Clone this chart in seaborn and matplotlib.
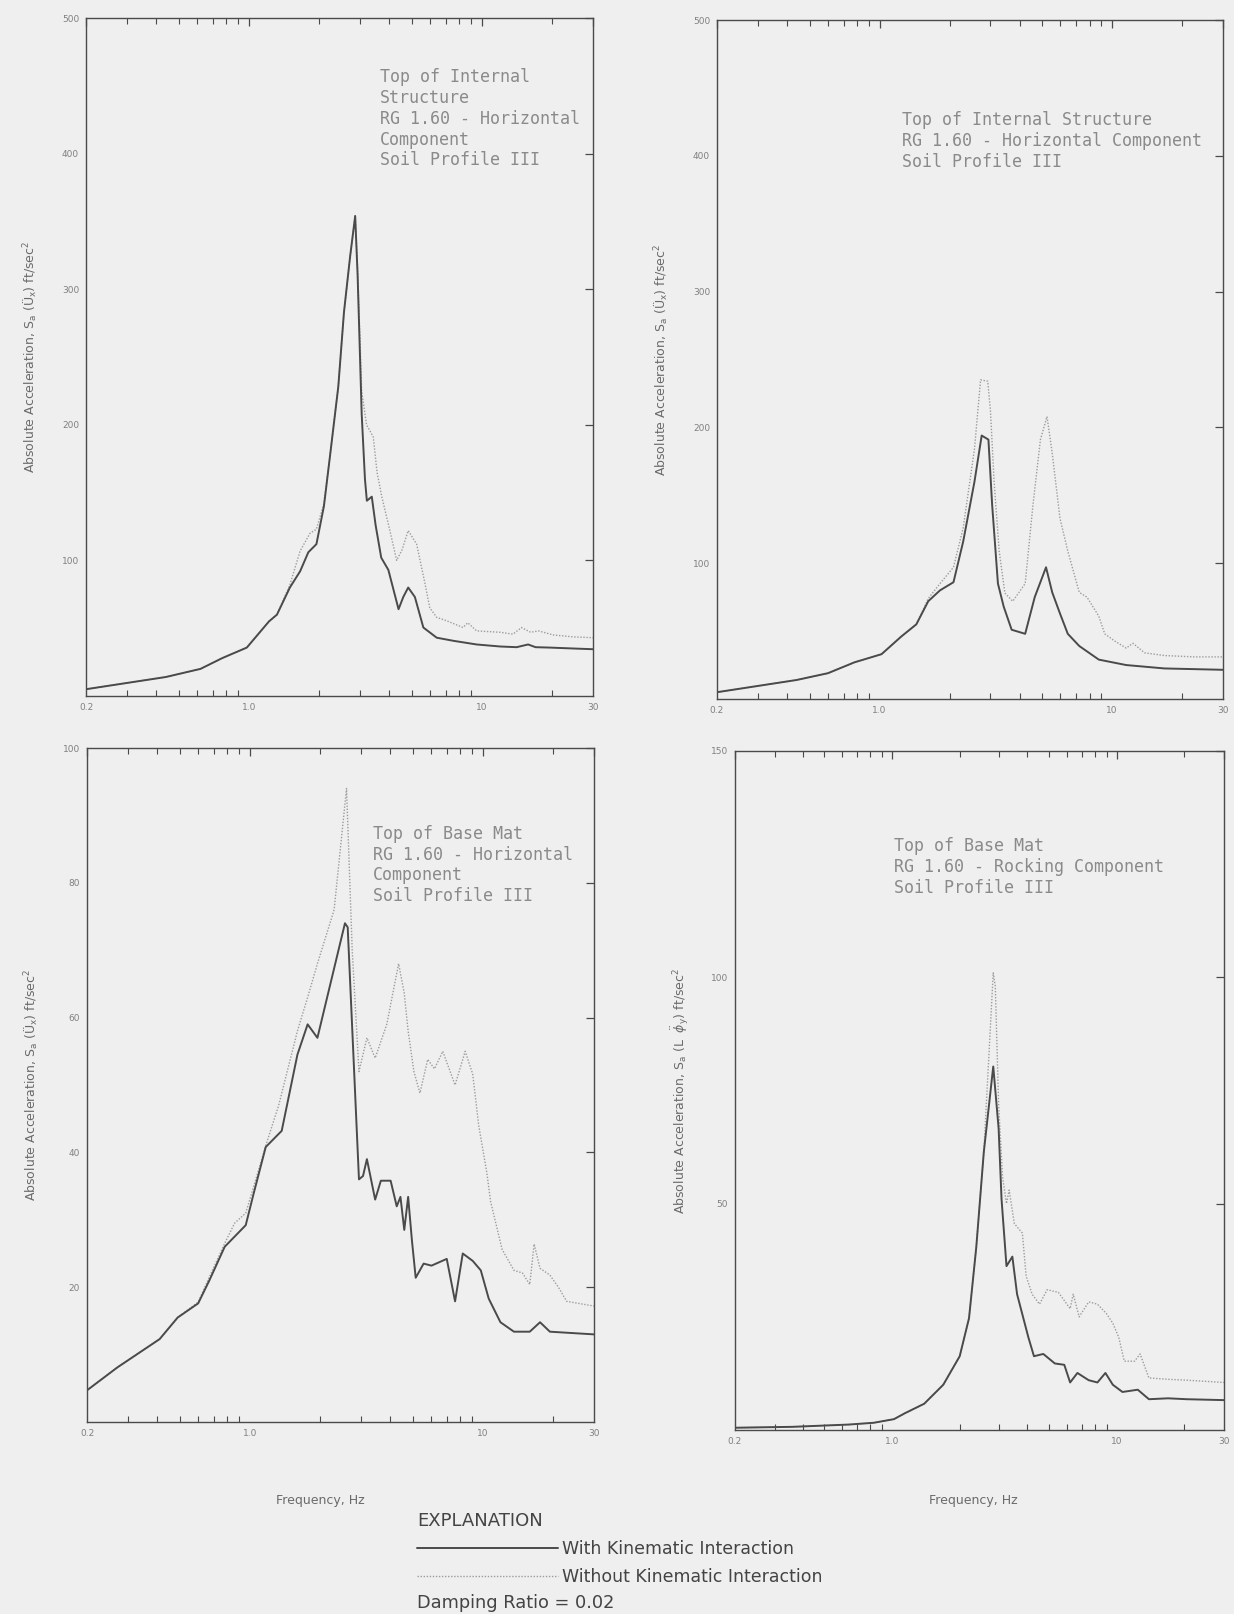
import numpy as np
import pandas as pd
import matplotlib
matplotlib.use("Agg")
import matplotlib.pyplot as plt
import seaborn as sns
from matplotlib.ticker import FixedLocator, NullFormatter

# ---- data (frequency in Hz, acceleration in ft/sec^2)

# top left: top of internal structure, horizontal
tl_f_with = [0.2, 0.44, 0.62, 0.77, 0.98, 1.22, 1.32, 1.50, 1.66, 1.80, 1.95, 2.10, 2.23,
             2.42, 2.56, 2.72, 2.86, 2.93, 3.05, 3.15, 3.21, 3.37, 3.50, 3.70, 3.97, 4.39,
             4.60, 4.83, 5.16, 5.61, 6.4, 7.55, 9.5, 12.0, 14.1, 15.8, 17.0, 19.6, 25.0, 30.0]
tl_a_with = [5, 14, 20, 28, 35.7, 55, 60, 80, 92, 106, 112, 140, 177,
             228, 283, 324, 354, 310, 208, 160, 144, 147, 126, 102, 93, 64,
             73, 80, 73, 50.5, 43, 40.7, 38, 36.5, 36, 38, 36, 35.7, 35, 34.5]
tl_f_without = [0.2, 0.44, 0.62, 0.77, 0.98, 1.22, 1.32, 1.50, 1.66, 1.83, 1.95, 2.10, 2.23,
                2.42, 2.56, 2.72, 2.86, 2.93, 3.05, 3.20, 3.42, 3.55, 3.72, 4.03, 4.31, 4.55,
                4.83, 5.25, 5.70, 5.98, 6.4, 7.06, 8.3, 8.7, 9.5, 12.0, 13.6, 14.8, 16.2,
                17.5, 20.3, 24.7, 30.0]
tl_a_without = [5, 14, 20, 28, 35.7, 55, 60, 82, 107, 120, 123, 142, 177,
                228, 283, 324, 354, 315, 225, 200, 191, 165, 147, 122, 100, 108,
                122, 112, 83, 65, 58, 55.5, 50.5, 54, 48, 47, 45.6, 50.5, 47,
                48, 45, 43.6, 43]

# top right: top of internal structure, horizontal component
tr_f_with = [0.2, 0.44, 0.60, 0.78, 1.02, 1.24, 1.44, 1.62, 1.82, 2.08, 2.29, 2.56, 2.75,
             2.94, 3.05, 3.23, 3.42, 3.70, 4.23, 4.65, 5.2, 5.53, 5.97, 6.45, 7.23, 8.77,
             11.5, 16.8, 30.0]
tr_a_with = [5, 14, 19, 27, 33, 46, 55, 72, 80, 86, 116, 160, 194,
             191, 143, 85, 68, 51, 48, 75, 97, 78.5, 63, 48, 39, 29,
             25, 22.5, 21.5]
tr_f_without = [0.2, 0.44, 0.60, 0.78, 1.02, 1.24, 1.44, 1.62, 1.82, 2.08, 2.29, 2.56, 2.72,
                2.92, 3.0, 3.11, 3.27, 3.46, 3.74, 4.23, 4.57, 4.92, 5.25, 5.53, 5.97, 6.45,
                6.77, 7.23, 7.8, 8.77, 9.3, 10.2, 11.5, 12.3, 13.8, 16.8, 22.7, 30.0]
tr_a_without = [5, 14, 19, 27, 33, 46, 55, 74, 85, 97, 126, 184, 235,
                234, 212, 160, 109, 78, 72, 85, 143, 191, 208, 181, 133, 109,
                96, 78.5, 75, 61, 48, 43, 37.5, 41, 34, 32, 31, 31]

# bottom left: top of base mat, horizontal component
bl_f_with = [0.2, 0.27, 0.41, 0.49, 0.60, 0.67, 0.78, 0.96, 1.04, 1.17, 1.37, 1.60, 1.77,
             1.95, 2.56, 2.63, 2.94, 3.06, 3.18, 3.45, 3.65, 4.02, 4.27, 4.43, 4.60, 4.78,
             4.96, 5.15, 5.57, 6.02, 7.0, 7.6, 8.2, 9.05, 9.8, 10.6, 11.9, 13.6, 15.9,
             17.6, 19.4, 30.0]
bl_a_with = [4.7, 8.1, 12.3, 15.5, 17.6, 21, 26, 29.2, 34, 40.8, 43.2, 54.5, 59,
             57, 74, 73.4, 36, 36.5, 39, 33, 35.8, 35.8, 32, 33.4, 28.5, 33.4,
             27, 21.4, 23.5, 23.2, 24.2, 17.9, 25, 23.9, 22.5, 18.3, 14.8, 13.4, 13.4,
             14.8, 13.4, 13]
bl_f_without = [0.2, 0.27, 0.41, 0.49, 0.60, 0.67, 0.78, 0.86, 0.96, 1.04, 1.17, 1.33, 1.60,
                1.77, 1.95, 2.3, 2.6, 2.75, 2.94, 3.18, 3.45, 3.87, 4.35, 4.6, 4.78, 5.06,
                5.37, 5.8, 6.2, 6.73, 7.6, 8.4, 9.05, 9.6, 10.4, 10.8, 12.1, 13.6, 14.8,
                15.9, 16.6, 17.6, 19.4, 21.1, 22.9, 30.0]
bl_a_without = [4.7, 8.1, 12.3, 15.5, 17.8, 21.5, 26.5, 29.5, 31, 35, 41, 47, 58,
                63, 68, 76, 94, 70, 52, 57, 54, 59, 68, 63.6, 58, 52,
                48.8, 53.8, 52.4, 55, 50, 55, 51.6, 44, 37, 32.7, 25.6, 22.5, 22.1,
                20.4, 26.4, 22.8, 21.8, 20, 17.9, 17.2]

# bottom right: top of base mat, rocking component
br_f_with = [0.2, 0.36, 0.64, 0.83, 1.02, 1.14, 1.39, 1.69, 2.0, 2.2, 2.37, 2.56, 2.82,
             2.98, 3.07, 3.23, 3.43, 3.6, 4.04, 4.28, 4.71, 5.3, 5.84, 6.2, 6.68, 7.5,
             8.2, 8.9, 9.6, 10.6, 12.4, 13.9, 16.9, 20.5, 30.0]
br_a_with = [0.5, 0.7, 1.2, 1.6, 2.4, 3.7, 5.8, 10, 16.3, 24.7, 40.4, 61.4, 80.3,
             66.6, 51, 36.2, 38.3, 30, 20.5, 16.3, 16.8, 14.7, 14.4, 10.5, 12.6, 11,
             10.5, 12.6, 10, 8.4, 8.9, 6.8, 7, 6.8, 6.6]
br_f_without = [0.2, 0.36, 0.64, 0.83, 1.02, 1.14, 1.39, 1.69, 2.0, 2.2, 2.37, 2.56, 2.82,
                2.88, 2.98, 3.1, 3.23, 3.32, 3.5, 3.8, 3.95, 4.2, 4.53, 4.9, 5.5, 6.2,
                6.4, 6.8, 7.5, 8.2, 9.0, 9.6, 10.2, 10.8, 12.0, 12.7, 13.9, 16.9, 20.5, 30.0]
br_a_without = [0.5, 0.7, 1.2, 1.6, 2.4, 3.7, 5.8, 10, 16.3, 24.7, 40.4, 61.4, 101,
                98, 72, 56, 50, 53, 45.6, 43.5, 34, 30, 27.8, 31, 30.4, 26.8,
                30, 25, 28.3, 27.8, 25.7, 23.6, 20.5, 15.2, 15.2, 16.8, 11.5, 11.2, 11, 10.5]

x_major = [0.2, 1.0, 10, 30]
x_major_labels = ["0.2", "1.0", "10", "30"]
x_minor = [0.3, 0.4, 0.5, 0.6, 0.7, 0.8, 0.9, 2, 3, 4, 5, 6, 7, 8, 9, 20]

ylabel_ux = "Absolute Acceleration, S$_\\mathregular{a}$ (Ü$_\\mathregular{x}$) ft/sec$^\\mathregular{2}$"
ylabel_phi = "Absolute Acceleration, S$_\\mathregular{a}$ (L  $\\ddot{\\phi}_\\mathregular{y}$) ft/sec$^\\mathregular{2}$"

panels = [
    dict(fw=tl_f_with, aw=tl_a_with, fo=tl_f_without, ao=tl_a_without,
         ylim=500, yticks=[100, 200, 300, 400, 500], ylabel=ylabel_ux,
         note="Top of Internal\nStructure\nRG 1.60 - Horizontal\nComponent\nSoil Profile III",
         note_xy=(0.58, 0.926), pos=(86, 18, 593, 696), xlabel=None),
    dict(fw=tr_f_with, aw=tr_a_with, fo=tr_f_without, ao=tr_a_without,
         ylim=500, yticks=[100, 200, 300, 400, 500], ylabel=ylabel_ux,
         note="Top of Internal Structure\nRG 1.60 - Horizontal Component\nSoil Profile III",
         note_xy=(0.365, 0.866), pos=(717, 20, 1223, 699), xlabel=None),
    dict(fw=bl_f_with, aw=bl_a_with, fo=bl_f_without, ao=bl_a_without,
         ylim=100, yticks=[20, 40, 60, 80, 100], ylabel=ylabel_ux,
         note="Top of Base Mat\nRG 1.60 - Horizontal\nComponent\nSoil Profile III",
         note_xy=(0.564, 0.886), pos=(87, 748, 594, 1422), xlabel=(0.46, -0.107)),
    dict(fw=br_f_with, aw=br_a_with, fo=br_f_without, ao=br_a_without,
         ylim=150, yticks=[50, 100, 150], ylabel=ylabel_phi,
         note="Top of Base Mat\nRG 1.60 - Rocking Component\nSoil Profile III",
         note_xy=(0.325, 0.873), pos=(735, 751, 1224, 1430), xlabel=(0.487, -0.094)),
]

W, H = 1234, 1614
bg = "#efefef"
ink = "#4a4a4a"
faint = "#9c9c9c"

sns.set_style("white")
plt.rcParams["font.family"] = ["DejaVu Sans"]

fig = plt.figure(figsize=(W / 100, H / 100), dpi=100, facecolor=bg)

handles = None
for p in panels:
    x0, y0, x1, y1 = p["pos"]
    ax = fig.add_axes([x0 / W, 1 - y1 / H, (x1 - x0) / W, (y1 - y0) / H])
    ax.set_facecolor(bg)

    sns.lineplot(x=p["fo"], y=p["ao"], ax=ax, color=faint, linewidth=1.0,
                 linestyle=(0, (1, 1.2)), estimator=None, sort=False,
                 label="Without Kinematic Interaction", legend=False)
    sns.lineplot(x=p["fw"], y=p["aw"], ax=ax, color=ink, linewidth=1.4,
                 estimator=None, sort=False,
                 label="With Kinematic Interaction", legend=False)

    ax.set_xscale("log")
    ax.set_xlim(0.2, 30)
    ax.set_ylim(0, p["ylim"])
    ax.xaxis.set_major_locator(FixedLocator(x_major))
    ax.set_xticklabels(x_major_labels)
    ax.xaxis.set_minor_locator(FixedLocator(x_minor))
    ax.xaxis.set_minor_formatter(NullFormatter())
    ax.set_yticks(p["yticks"])
    ax.set_yticklabels([str(v) for v in p["yticks"]])

    ax.tick_params(which="major", direction="in", length=6, width=0.9, color=ink,
                   top=True, right=True, labelsize=6.5, labelcolor="#808080", pad=5)
    ax.tick_params(which="minor", direction="in", length=4, width=0.8, color=ink,
                   top=True, bottom=True)
    for s in ax.spines.values():
        s.set_color(ink)
        s.set_linewidth(1.0)

    ax.set_ylabel(p["ylabel"], fontsize=9, color="#6a6a6a")
    ax.yaxis.set_label_coords(-0.09, 0.5)
    ax.set_xlabel("")
    if p["xlabel"] is not None:
        ax.set_xlabel("Frequency, Hz", fontsize=9, color="#6a6a6a")
        ax.xaxis.set_label_coords(*p["xlabel"])

    ax.text(p["note_xy"][0], p["note_xy"][1], p["note"], transform=ax.transAxes,
            ha="left", va="top", fontsize=12, family="DejaVu Sans Mono",
            color="#8a8a8a", linespacing=1.2)

    if handles is None:
        handles = ax.get_lines()[::-1]

leg = fig.legend(handles=handles,
                 labels=["With Kinematic Interaction", "Without Kinematic Interaction"],
                 loc="upper left", bbox_to_anchor=(417 / W, 1 - 1512 / H),
                 frameon=False, fontsize=12.5, title="EXPLANATION", title_fontsize=13,
                 alignment="left", handlelength=8.1, handletextpad=0.25,
                 labelspacing=0.58, borderpad=0, borderaxespad=0)
for t in leg.get_texts():
    t.set_color("#444444")
leg.get_title().set_color("#444444")

fig.text(417 / W, 1 - 1603 / H, "Damping Ratio = 0.02", fontsize=12.8,
         color="#444444", ha="left", va="center")

fig.savefig("out.png", dpi=100, facecolor=bg)
